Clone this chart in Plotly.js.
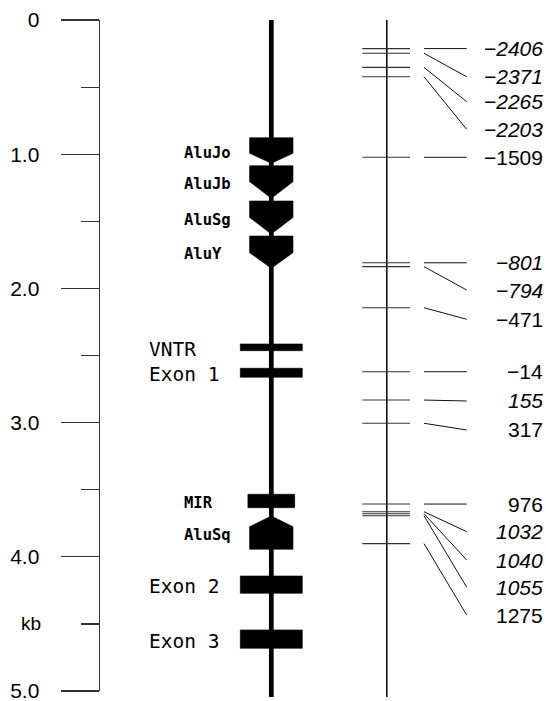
<!DOCTYPE html>
<html><head><meta charset="utf-8">
<script src="https://cdn.plot.ly/plotly-3.0.1.min.js"></script>
<style>html,body{margin:0;padding:0;background:#fff;overflow:hidden}</style>
</head><body><div id="chart" style="width:546px;height:701px"></div>
<script>
// ---- data: genomic elements (positions in kb from the top of the map) ----
const elemNames = ['AluJo','AluJb','AluSg','AluY','VNTR','Exon 1','MIR','AluSq','Exon 2','Exon 3'];
const elemStart = [0.877,1.086,1.349,1.610,2.414,2.595,3.534,3.696,4.143,4.545];
const elemEnd   = [1.068,1.329,1.595,1.850,2.464,2.662,3.634,3.944,4.272,4.682];
const elemHead  = [0.075,0.124,0.124,0.116,0,0,0,0.080,0,0];
const elemKind  = ['down','down','down','down','vntr','exon','mir','up','exon','exon'];
const mapLengthKb = 5.045;

// ---- data: polymorphisms ----
const snpLabels  = ['\u22122406','\u22122371','\u22122265','\u22122203','\u22121509','\u2212801','\u2212794','\u2212471','\u221214','155','317','976','1032','1040','1055','1275'];
const snpKb      = [0.213,0.248,0.353,0.423,1.023,1.809,1.838,2.144,2.621,2.832,3.005,3.607,3.664,3.679,3.694,3.902];
const snpLabelKb = [0.213,0.423,0.609,0.815,1.023,1.809,2.012,2.230,2.621,2.839,3.055,3.607,3.813,4.024,4.227,4.434];
const snpItalic  = [1,1,1,1,0,1,1,0,0,1,0,0,1,1,1,0];

// ---- data: scale axis ----
const axisTickVals  = [0,1,2,3,4,5];
const axisTickText  = ['0','1.0','2.0','3.0','4.0','5.0'];
const axisMinorVals = [0.5,1.5,2.5,3.5,4.5];
const axisUnitLabel = 'kb';
const axisUnitAt    = 4.5;

// ---- layout constants ----
const W = 546, H = 701, TOP = 20, LEFT = 100;
const KB_PX = 134.2;
const RANGE_MAX = (H - TOP) / KB_PX;
const CX = 271.3, CX2 = 386.8;
const halfW = {down:21.7, up:21.7, vntr:31, exon:31, mir:23.4};

// element polygons
const px = [], py = [];
elemNames.forEach((n,i)=>{
  const s = elemStart[i], e = elemEnd[i], h = elemHead[i], w = halfW[elemKind[i]];
  let pts;
  if (elemKind[i] === 'down') {
    pts = [[CX-w,s],[CX+w,s],[CX+w,e-h],[CX,e],[CX-w,e-h],[CX-w,s]];
  } else if (elemKind[i] === 'up') {
    pts = [[CX,s],[CX+w,s+h],[CX+w,e],[CX-w,e],[CX-w,s+h],[CX,s]];
  } else {
    pts = [[CX-w,s],[CX+w,s],[CX+w,e],[CX-w,e],[CX-w,s]];
  }
  pts.forEach(p=>{px.push(p[0]); py.push(p[1]);});
  px.push(null); py.push(null);
});

// SNP ticks and connectors
const tx = [], ty = [], cx = [], cy = [];
snpKb.forEach((k,i)=>{
  tx.push(362.3, 410, null); ty.push(k, k, null);
  cx.push(424, 466.7, null); cy.push(k, snpLabelKb[i], null);
});

const traces = [
  {x:[CX,CX], y:[0,mapLengthKb], mode:'lines', line:{color:'#000', width:4.7}, hoverinfo:'skip'},
  {x:[CX2,CX2], y:[0,mapLengthKb], mode:'lines', line:{color:'#111', width:1.6}, hoverinfo:'skip'},
  {x:px, y:py, mode:'lines', fill:'toself', fillcolor:'#000', line:{color:'#000', width:0.6}, hoverinfo:'skip'},
  {x:tx, y:ty, mode:'lines', line:{color:'#333', width:1.1}, hoverinfo:'skip'},
  {x:cx, y:cy, mode:'lines', line:{color:'#111', width:1}, hoverinfo:'skip'},
  {x:[null], y:[null], yaxis:'y2', mode:'lines', hoverinfo:'skip'}
];

const annotations = [];
elemNames.forEach((n,i)=>{
  const small = ['down','up','mir'].includes(elemKind[i]);
  annotations.push({
    x: small ? 182 : 147, y:(elemStart[i]+elemEnd[i])/2, xref:'x', yref:'y',
    text:n, showarrow:false, xanchor:'left', yanchor:'middle', yshift:-2,
    font: small ? {family:'DejaVu Sans Mono, monospace', size:15.5, color:'#000', weight:700}
                : {family:'DejaVu Sans Mono, monospace', size:19.5, color:'#000'}
  });
});
snpLabels.forEach((t,i)=>{
  annotations.push({
    x:545, y:snpLabelKb[i], xref:'x', yref:'y', text:t, showarrow:false,
    xanchor:'right', yanchor:'middle',
    font:{family:'Liberation Sans, Arial, sans-serif', size:21, color:'#000', style: snpItalic[i] ? 'italic' : 'normal'}
  });
});
annotations.push({
  x:(43-LEFT)/(W-LEFT), y:axisUnitAt, xref:'paper', yref:'y2', text:axisUnitLabel, showarrow:false,
  xanchor:'right', yanchor:'middle',
  font:{family:'Liberation Sans, Arial, sans-serif', size:19, color:'#000'}
});

const layout = {
  width:W, height:H, margin:{l:LEFT, r:0, t:TOP, b:0, pad:0},
  paper_bgcolor:'#fff', plot_bgcolor:'rgba(0,0,0,0)', showlegend:false,
  xaxis:{range:[LEFT, W], visible:false, fixedrange:true},
  yaxis:{range:[RANGE_MAX, 0], visible:false, fixedrange:true},
  yaxis2:{
    domain:[1 - 5/RANGE_MAX, 1], range:[5,0], anchor:'x', side:'left',
    showline:true, linecolor:'#333', linewidth:1.4,
    showgrid:false, zeroline:false,
    ticks:'outside', ticklen:38, tickwidth:1.2, tickcolor:'#333',
    tickmode:'array', tickvals:axisTickVals, ticktext:axisTickText,
    ticklabelstandoff:17, ticklabeloverflow:'allow',
    tickfont:{family:'Liberation Sans, Arial, sans-serif', size:21, color:'#000'},
    minor:{tickmode:'array', tickvals:axisMinorVals, ticks:'outside', ticklen:18, tickwidth:1.2, tickcolor:'#333', showgrid:false},
    fixedrange:true
  },
  annotations
};

Plotly.newPlot('chart', traces, layout, {staticPlot:true, displayModeBar:false});
</script>
</body></html>
